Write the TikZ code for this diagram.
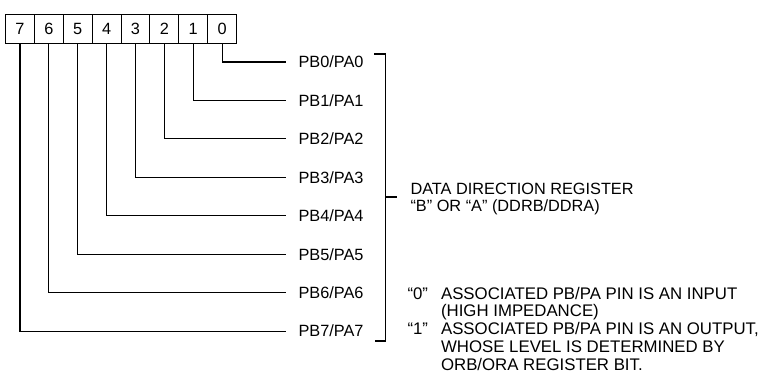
\documentclass[tikz,border=0pt]{standalone}
\usepackage{fontspec}
\setmainfont{Liberation Sans}
\begin{document}
\begin{tikzpicture}[x=1pt,y=-1pt,line width=1.1pt,
  font=\fontsize{16.3}{17.5}\selectfont,
  cell/.style={draw,minimum width=28.875pt,minimum height=29pt,inner sep=0pt,anchor=north west},
  pin/.style={anchor=west,inner xsep=12pt,inner ysep=0pt},
  wire/.style={line width=1.1pt}]
\useasboundingbox (0,0) rectangle (771,378);
\foreach \b in {0,...,7}{
  \node[cell] (b\b) at ({5+(7-\b)*28.875},14) {\b};
  \node[pin] (l\b) at (286,{62+\b*38.45}) {PB\b/PA\b};
  \draw[wire] (b\b.south) |- (l\b.west);
}
\coordinate (brt) at (374,54);
\coordinate (brc) at (385.5,54);
\coordinate (brb) at (385.5,341);
\coordinate (brbe) at (375,341);
\coordinate (brm) at (385.5,197);
\coordinate (brme) at (397,197);
\draw[wire] (brt) -- (brc) -- (brb) -- (brbe);
\draw[wire] (brm) -- (brme);
\node[anchor=west,align=left,inner sep=0pt,font=\fontsize{16.3}{17}\selectfont] (ddr) at (410,198.5)
  {DATA DIRECTION REGISTER\\“B” OR “A” (DDRB/DDRA)};
\node[anchor=north west,inner sep=0pt,font=\fontsize{16.8}{17.9}\selectfont] (notes) at (407,286)
  {\begin{tabular}{@{}l@{\hspace{13pt}}l@{}}
  “0” & ASSOCIATED PB/PA PIN IS AN INPUT\\
      & (HIGH IMPEDANCE)\\
  “1” & ASSOCIATED PB/PA PIN IS AN OUTPUT,\\
      & WHOSE LEVEL IS DETERMINED BY\\
      & ORB/ORA REGISTER BIT.
  \end{tabular}};
\end{tikzpicture}
\end{document}
